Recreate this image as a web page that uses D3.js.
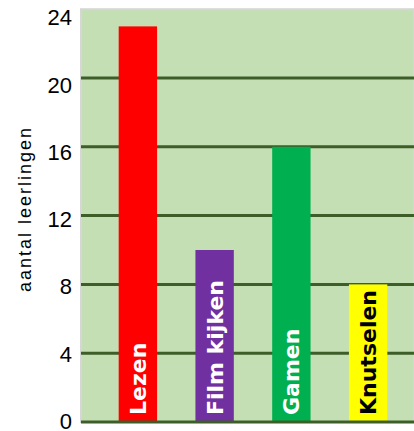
<!DOCTYPE html>
<html><head><meta charset="utf-8">
<script src="https://cdn.jsdelivr.net/npm/d3@7"></script>
<style>body{margin:0;background:#fff}svg{display:block}</style>
</head><body>
<script>
const categories = ["Lezen", "Film kijken", "Gamen", "Knutselen"];
const values = [23, 10, 16, 8];
const barColors = ["#ff0000", "#7030a0", "#00b050", "#ffff00"];
const labelColors = ["#ffffff", "#ffffff", "#ffffff", "#000000"];
const yTicks = [0, 4, 8, 12, 16, 20, 24];
const yTitle = "aantal leerlingen";

const W = 414, H = 431;
const svg = d3.select("body").append("svg").attr("width", W).attr("height", H);

const plotL = 81, plotR = 414, plotT = 9.2, plotB = 422;
const y = d3.scaleLinear().domain([0, 24]).range([plotB, plotT]);
const yLab = d3.scaleLinear().domain([0, 24]).range([421, 17.5]);
const x = d3.scaleBand().domain(categories).range([99.5, 406.5]).paddingInner(0.5).paddingOuter(0.25);

svg.append("rect").attr("x", plotL).attr("y", y(24)).attr("width", plotR - plotL).attr("height", plotB - y(24))
  .attr("fill", "#c5dfb4").attr("stroke", "#d6d6d6").attr("stroke-width", 2);

svg.append("g").selectAll("line").data(yTicks.filter(d => d > 0 && d < 24)).join("line")
  .attr("x1", plotL).attr("x2", plotR).attr("y1", d => y(d)).attr("y2", d => y(d))
  .attr("stroke", "#3d5e29").attr("stroke-width", 3);

svg.append("g").selectAll("rect").data(values).join("rect")
  .attr("x", (d, i) => x(categories[i])).attr("width", x.bandwidth())
  .attr("y", d => y(d)).attr("height", d => y(0) - y(d))
  .attr("fill", (d, i) => barColors[i]);

svg.append("line").attr("x1", plotL).attr("x2", plotR).attr("y1", y(0)).attr("y2", y(0))
  .attr("stroke", "#3d5e29").attr("stroke-width", 3);

svg.append("g").selectAll("text").data(yTicks).join("text")
  .attr("x", 72).attr("y", d => yLab(d)).attr("dy", "0.36em").attr("text-anchor", "end")
  .attr("font-family", "Liberation Sans, Arial, sans-serif").attr("font-size", 22).attr("fill", "#000")
  .text(d => d);

svg.append("text").attr("transform", `translate(31,210) rotate(-90)`).attr("text-anchor", "middle")
  .attr("font-family", "Liberation Sans, Arial, sans-serif").attr("font-size", 18).attr("fill", "#000")
  .attr("textLength", 164).attr("lengthAdjust", "spacing")
  .text(yTitle);

svg.append("g").selectAll("text").data(categories).join("text")
  .attr("transform", d => `translate(${x(d) + x.bandwidth() / 2},${y(0) - 7}) rotate(-90)`)
  .attr("dy", "0.36em").attr("text-anchor", "start")
  .attr("font-family", "DejaVu Sans, Verdana, sans-serif").attr("font-weight", "bold").attr("font-size", 22)
  .attr("fill", (d, i) => labelColors[i])
  .text(d => d);
</script>
</body></html>
